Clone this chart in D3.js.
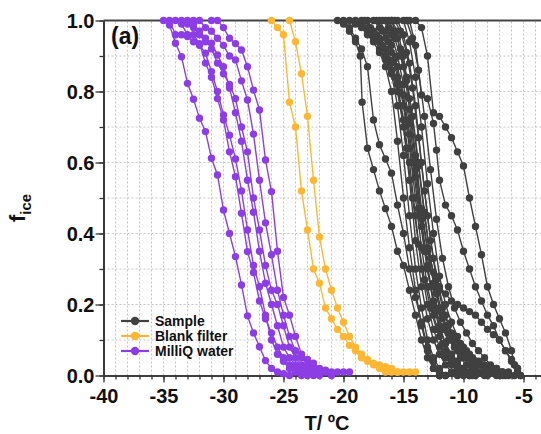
<!DOCTYPE html>
<html>
<head>
<meta charset="utf-8">
<script src="https://cdn.jsdelivr.net/npm/d3@7/dist/d3.min.js"></script>
<style>
  html, body { margin: 0; padding: 0; background: #fff; }
  svg { display: block; font-family: "Liberation Sans", Arial, sans-serif; font-weight: bold; }
</style>
</head>
<body>
<svg id="chart" width="541" height="434"></svg>
<script>
// ---------------- data ----------------
const xTicks = [-40, -35, -30, -25, -20, -15, -10, -5];
const yTicks = [0, 0.2, 0.4, 0.6, 0.8, 1.0];
const seriesNames = ["Sample", "Blank filter", "MilliQ water"];
const seriesColors = ["#404040", "#ffb733", "#8d3de4"];

// Sample runs: [T (°C), f_ice]
const sampleRuns = [
  [[-20.5,1],[-20,0.99],[-19.5,0.97],[-19,0.94],[-18.6,0.9],[-18.45,0.77],[-18,0.64],[-17.5,0.58],[-17,0.52],[-16.5,0.47],[-16,0.42],[-15.5,0.35],[-15,0.31],[-14.5,0.24],[-14,0.17],[-13.5,0.1],[-13,0.05],[-12.5,0.02],[-12,0]],
  [[-20,1],[-19.5,0.98],[-19,0.95],[-18.5,0.92],[-18,0.87],[-17.5,0.72],[-17,0.65],[-16.5,0.61],[-16,0.57],[-15.5,0.48],[-15,0.4],[-14.5,0.3],[-14,0.22],[-13.5,0.15],[-13,0.08],[-12.5,0.04],[-12,0.01],[-11.5,0]],
  [[-14,1],[-13.5,0.98],[-13,0.9],[-12.5,0.74],[-12,0.73],[-11.5,0.7],[-11,0.67],[-10.5,0.63],[-10,0.59],[-9.5,0.5],[-9,0.42],[-8.5,0.34],[-8,0.25],[-7.5,0.2],[-7,0.16],[-6.5,0.12],[-6,0.07],[-5.75,0.03],[-5.5,0.01]],
  [[-14.5,1],[-14,0.93],[-13.5,0.79],[-13,0.78],[-12.5,0.71],[-12.25,0.635],[-12,0.55],[-11.5,0.48],[-11,0.45],[-10.5,0.41],[-10,0.35],[-9.5,0.3],[-9,0.25],[-8.5,0.21],[-8,0.17],[-7.5,0.14],[-7,0.1],[-6.5,0.07],[-6,0.04],[-5.5,0.02],[-5.25,0]],
  [[-19.5,1],[-19,0.99],[-18.5,0.98],[-18,0.96],[-17.5,0.94],[-17,0.91],[-16.5,0.87],[-16,0.8],[-15.5,0.66],[-15,0.5],[-14.5,0.36],[-14,0.24],[-13.5,0.14],[-13,0.07],[-12.5,0.02],[-12,0]],
  [[-19,1],[-18.5,0.99],[-18,0.97],[-17.5,0.95],[-17,0.92],[-16.5,0.89],[-16,0.85],[-15.5,0.76],[-15,0.62],[-14.5,0.45],[-14,0.3],[-13.5,0.19],[-13,0.1],[-12.5,0.05],[-12,0.02],[-11.5,0]],
  [[-18.5,1],[-18,0.98],[-17.5,0.96],[-17,0.94],[-16.5,0.9],[-16,0.86],[-15.5,0.8],[-15,0.7],[-14.5,0.55],[-14,0.38],[-13.5,0.25],[-13,0.16],[-12.5,0.1],[-12,0.06],[-11.5,0.03],[-11,0.01],[-10.5,0]],
  [[-18,1],[-17.5,0.97],[-17,0.95],[-16.5,0.92],[-16,0.88],[-15.5,0.82],[-15,0.72],[-14.5,0.6],[-14,0.45],[-13.5,0.3],[-13,0.2],[-12.5,0.13],[-12,0.08],[-11.5,0.05],[-11,0.03],[-10.5,0.01],[-10,0]],
  [[-17.5,1],[-17,0.98],[-16.5,0.95],[-16,0.91],[-15.5,0.84],[-15,0.76],[-14.5,0.64],[-14,0.5],[-13.5,0.36],[-13,0.25],[-12.5,0.17],[-12,0.11],[-11.5,0.07],[-11,0.04],[-10.5,0.02],[-10,0.01],[-9.5,0]],
  [[-17,1],[-16.5,0.97],[-16,0.93],[-15.5,0.87],[-15,0.79],[-14.5,0.68],[-14,0.56],[-13.5,0.42],[-13,0.3],[-12.5,0.2],[-12,0.13],[-11.5,0.09],[-11,0.06],[-10.5,0.04],[-10,0.02],[-9.5,0.01],[-9,0]],
  [[-16.5,1],[-16,0.96],[-15.5,0.9],[-15,0.82],[-14.5,0.71],[-14,0.58],[-13.5,0.46],[-13,0.35],[-12.5,0.26],[-12,0.19],[-11.5,0.14],[-11,0.1],[-10.5,0.07],[-10,0.05],[-9.5,0.03],[-9,0.02],[-8.5,0.01],[-8,0]],
  [[-16,1],[-15.5,0.95],[-15,0.87],[-14.5,0.75],[-14,0.6],[-13.5,0.44],[-13,0.31],[-12.5,0.21],[-12,0.14],[-11.5,0.09],[-11,0.05],[-10.5,0.03],[-10,0.01],[-9.5,0]],
  [[-15.5,1],[-15,0.96],[-14.5,0.88],[-14,0.76],[-13.5,0.6],[-13,0.45],[-12.5,0.33],[-12,0.24],[-11.5,0.17],[-11,0.12],[-10.5,0.09],[-10,0.07],[-9.5,0.05],[-9,0.04],[-8.5,0.03],[-8,0.02],[-7.5,0.01],[-7,0]],
  [[-15,1],[-14.5,0.94],[-14,0.84],[-13.5,0.7],[-13,0.54],[-12.5,0.4],[-12,0.28],[-11.5,0.2],[-11,0.15],[-10.5,0.11],[-10,0.08],[-9.5,0.06],[-9,0.04],[-8.5,0.03],[-8,0.02],[-7.5,0.01],[-7,0.01],[-6.5,0]],
  [[-18.25,1],[-17.75,0.98],[-17.25,0.96],[-16.75,0.93],[-16.25,0.89],[-15.75,0.84],[-15.25,0.76],[-14.75,0.64],[-14.25,0.5],[-13.75,0.37],[-13.25,0.27],[-12.75,0.19],[-12.25,0.13],[-11.75,0.09],[-11.25,0.06],[-10.75,0.04],[-10.25,0.02],[-9.75,0.01],[-9.25,0]],
  [[-17.25,1],[-16.75,0.97],[-16.25,0.94],[-15.75,0.89],[-15.25,0.82],[-14.75,0.72],[-14.25,0.6],[-13.75,0.47],[-13.25,0.35],[-12.75,0.25],[-12.25,0.18],[-11.75,0.13],[-11.25,0.1],[-10.75,0.08],[-10.25,0.06],[-9.75,0.05],[-9.25,0.04],[-8.75,0.03],[-8.25,0.02],[-7.75,0.01],[-7.25,0.01],[-6.75,0]],
  [[-16.25,1],[-15.75,0.97],[-15.25,0.92],[-14.75,0.84],[-14.25,0.73],[-13.75,0.59],[-13.25,0.45],[-12.75,0.33],[-12.25,0.24],[-11.75,0.17],[-11.25,0.12],[-10.75,0.08],[-10.25,0.05],[-9.75,0.03],[-9.25,0.02],[-8.75,0.01],[-8.25,0]],
  [[-15.75,1],[-15.25,0.97],[-14.75,0.91],[-14.25,0.81],[-13.75,0.67],[-13.25,0.52],[-12.75,0.38],[-12.25,0.27],[-11.75,0.19],[-11.25,0.14],[-10.75,0.11],[-10.25,0.09],[-9.75,0.07],[-9.25,0.05],[-8.75,0.04],[-8.25,0.03],[-7.75,0.02],[-7.25,0.02],[-6.75,0.01],[-6.25,0.01],[-5.75,0]],
  [[-14.75,1],[-14.25,0.95],[-13.75,0.86],[-13.25,0.73],[-12.75,0.58],[-12.25,0.44],[-11.75,0.33],[-11.25,0.25],[-10.75,0.19],[-10.25,0.15],[-9.75,0.12],[-9.25,0.09],[-8.75,0.07],[-8.25,0.05],[-7.75,0.03],[-7.25,0.02],[-6.75,0.01],[-6.25,0]],
  [[-16.75,1],[-16.25,0.98],[-15.75,0.95],[-15.25,0.9],[-14.75,0.83],[-14.25,0.73],[-13.75,0.6],[-13.25,0.46],[-12.75,0.33],[-12.25,0.23],[-11.75,0.16],[-11.25,0.12],[-10.75,0.09],[-10.25,0.07],[-9.75,0.05],[-9.25,0.04],[-8.75,0.03],[-8.25,0.02],[-7.75,0.01],[-7.25,0]],
  [[-16,1],[-15.5,0.97],[-15,0.9],[-14.5,0.78],[-14,0.62],[-13.5,0.47],[-13,0.36],[-12.5,0.29],[-12,0.25],[-11.5,0.23],[-11,0.21],[-10.5,0.2],[-10,0.19],[-9.5,0.18],[-9,0.17],[-8.5,0.15],[-8,0.13],[-7.5,0.115],[-7,0.1],[-6.5,0.07],[-6,0.045],[-5.75,0.03],[-5.5,0.02],[-5.25,0]]
];

// Blank filter runs
const blankRuns = [
  [[-26,1],[-25.5,0.98],[-25,0.96],[-24.5,0.77],[-24,0.7],[-23.5,0.52],[-23,0.41],[-22.5,0.3],[-22,0.26],[-21.5,0.19],[-21,0.16],[-20.5,0.13],[-20,0.11],[-19.5,0.085],[-19,0.07],[-18.5,0.05],[-18,0.04],[-17.5,0.03],[-17,0.02],[-16.5,0.01],[-16,0.01],[-15.5,0.01]],
  [[-24.5,1],[-24,0.94],[-23.5,0.85],[-23,0.73],[-22.5,0.55],[-22,0.39],[-21.5,0.3],[-21,0.24],[-20.5,0.19],[-20,0.15],[-19.5,0.11],[-19,0.08],[-18.5,0.06],[-18,0.045],[-17.5,0.035],[-17,0.03],[-16.5,0.025],[-16,0.02],[-15.5,0.01],[-15,0.01],[-14.5,0.01],[-14,0.01]]
];

// MilliQ water runs
const milliqRuns = [
  [[-35,1],[-34.5,0.987],[-34,0.936],[-33.5,0.898],[-33,0.823],[-32.5,0.778],[-32,0.725],[-31.5,0.687],[-31,0.612],[-30.5,0.565],[-30,0.466],[-29.5,0.4],[-29,0.335],[-28.5,0.255],[-28,0.168],[-27.5,0.12],[-27,0.081],[-26.5,0.042],[-26,0.02],[-25.5,0.01],[-25,0.005],[-24.5,0]],
  [[-34.5,1],[-34,0.96],[-33.5,0.96],[-33,0.955],[-32.5,0.94],[-32,0.93],[-31.5,0.908],[-31,0.856],[-30.5,0.8],[-30,0.734],[-29.5,0.677],[-29,0.61],[-28.5,0.52],[-28,0.41],[-27.5,0.31],[-27,0.25],[-26.5,0.17],[-26,0.1],[-25.5,0.06],[-25,0.04],[-24.5,0.02],[-24,0.01],[-23.5,0]],
  [[-34,1],[-33.5,0.99],[-33,0.96],[-32.5,0.96],[-32,0.935],[-31.5,0.88],[-31,0.84],[-30.5,0.78],[-30,0.72],[-29.5,0.63],[-29,0.56],[-28.5,0.457],[-28,0.349],[-27.5,0.29],[-27,0.21],[-26.5,0.16],[-26,0.12],[-25.5,0.08],[-25,0.05],[-24.5,0.03],[-24,0.02],[-23.5,0.01],[-23,0]],
  [[-33.5,1],[-33,0.99],[-32.5,0.98],[-32,0.96],[-31.5,0.94],[-31,0.936],[-30.5,0.903],[-30,0.87],[-29.5,0.81],[-29,0.74],[-28.5,0.66],[-28,0.55],[-27.5,0.46],[-27,0.35],[-26.5,0.26],[-26,0.2],[-25.5,0.14],[-25,0.08],[-24.5,0.05],[-24,0.03],[-23.5,0.02],[-23,0.01],[-22.5,0]],
  [[-33,1],[-32.5,0.99],[-32,0.97],[-31.5,0.95],[-31,0.92],[-30.5,0.88],[-30,0.85],[-29.5,0.82],[-29,0.78],[-28.5,0.7],[-28,0.63],[-27.5,0.5],[-27,0.41],[-26.5,0.31],[-26,0.24],[-25.5,0.2],[-25,0.14],[-24.5,0.08],[-24,0.05],[-23.5,0.03],[-23,0.02],[-22.5,0.01],[-22,0]],
  [[-32.5,1],[-32,1],[-31.5,0.98],[-31,0.97],[-30.5,0.95],[-30,0.93],[-29.5,0.9],[-29,0.889],[-28.5,0.83],[-28,0.776],[-27.5,0.68],[-27,0.55],[-26.5,0.43],[-26,0.34],[-25.5,0.24],[-25,0.17],[-24.5,0.11],[-24,0.07],[-23.5,0.05],[-23,0.03],[-22.5,0.02],[-22,0.01],[-21.5,0.01],[-21,0]],
  [[-31,1],[-30.5,1],[-30,0.98],[-29.5,0.95],[-29,0.935],[-28.5,0.917],[-28,0.87],[-27.5,0.804],[-27,0.748],[-26.5,0.607],[-26,0.518],[-25.5,0.35],[-25,0.22],[-24.5,0.17],[-24,0.11],[-23.5,0.06],[-23,0.045],[-22.5,0.035],[-22,0.02],[-21.5,0.015],[-21,0.01],[-20.5,0.01],[-20,0.01],[-19.5,0.01]]
];

// ---------------- drawing ----------------
const svg = d3.select("#chart");
const x = d3.scaleLinear().domain([-40, -3.5]).range([103.5, 541.5]);
const y = d3.scaleLinear().domain([0, 1]).range([375.5, 20.5]);
const [x0, x1] = x.range();
const [yb, yt] = y.range();

// grid
const grid = svg.append("g").attr("stroke", "#c4c4c4").attr("stroke-width", 1).attr("stroke-dasharray", "2,2");
d3.range(-39, -3, 1).forEach(t => {
  grid.append("line").attr("x1", x(t)).attr("x2", x(t)).attr("y1", yb).attr("y2", yt);
});
d3.range(1, 10).map(i => i / 10).forEach(v => {
  grid.append("line").attr("x1", x0).attr("x2", x1).attr("y1", y(v)).attr("y2", y(v));
});

// top border
svg.append("line").attr("x1", x0).attr("x2", x1).attr("y1", yt).attr("y2", yt)
  .attr("stroke", "#444").attr("stroke-width", 1.8);

// axes
const xMinor = svg.append("g").attr("transform", `translate(0,${yb})`)
  .call(d3.axisBottom(x).tickValues(d3.range(-40, -3, 1)).tickSize(4).tickSizeOuter(0).tickFormat(""));
const xMajor = svg.append("g").attr("transform", `translate(0,${yb})`)
  .call(d3.axisBottom(x).tickValues(xTicks).tickSize(7).tickSizeOuter(0).tickPadding(6).tickFormat(d => String(d)));
const yMinor = svg.append("g").attr("transform", `translate(${x0},0)`)
  .call(d3.axisLeft(y).tickValues(d3.range(0, 11).map(i => i / 10)).tickSize(4).tickSizeOuter(0).tickFormat(""));
const yMajor = svg.append("g").attr("transform", `translate(${x0},0)`)
  .call(d3.axisLeft(y).tickValues(yTicks).tickSize(8).tickSizeOuter(0).tickPadding(1).tickFormat(d3.format(".1f")));

[xMinor, xMajor, yMinor, yMajor].forEach(g => {
  g.selectAll("path.domain").attr("stroke", "#333").attr("stroke-width", 1.6);
  g.selectAll(".tick line").attr("stroke", "#333").attr("stroke-width", 1.3);
  g.selectAll("text").attr("fill", "#111").style("font-size", "20px").style("font-weight", "bold")
    .style("font-family", '"Liberation Sans", Arial, sans-serif');
});
yMajor.selectAll("text").attr("dy", "0.36em");

// series
const line = d3.line().x(d => x(d[0])).y(d => y(d[1]));
function drawRuns(runs, color) {
  const g = svg.append("g");
  runs.forEach(run => {
    g.append("path").attr("d", line(run)).attr("fill", "none")
      .attr("stroke", color).attr("stroke-width", 1.4);
    g.selectAll(null).data(run).enter().append("circle")
      .attr("cx", d => x(d[0])).attr("cy", d => y(d[1])).attr("r", 3.7).attr("fill", color);
  });
}
drawRuns(sampleRuns, seriesColors[0]);
drawRuns(blankRuns, seriesColors[1]);
drawRuns(milliqRuns, seriesColors[2]);

// legend
const legendY = [321, 336, 351];
seriesNames.forEach((name, i) => {
  const g = svg.append("g");
  g.append("line").attr("x1", 121).attr("x2", 149).attr("y1", legendY[i]).attr("y2", legendY[i])
    .attr("stroke", seriesColors[i]).attr("stroke-width", 2.2);
  g.append("circle").attr("cx", 135).attr("cy", legendY[i]).attr("r", 4.2).attr("fill", seriesColors[i]);
  g.append("text").attr("x", 155).attr("y", legendY[i] + 5).text(name)
    .style("font-size", "14px").attr("fill", "#111");
});

// panel label
svg.append("text").attr("x", 111).attr("y", 44).text("(a)").style("font-size", "23px").attr("fill", "#111");

// axis titles
svg.append("text").attr("x", 327).attr("y", 430).attr("text-anchor", "middle")
  .style("font-size", "20px").attr("fill", "#111").text("T/ ºC");
const yt_ = svg.append("text").attr("transform", "translate(25,222) rotate(-90)")
  .style("font-size", "22px").attr("fill", "#111");
yt_.append("tspan").text("f");
yt_.append("tspan").attr("dy", 6).style("font-size", "15px").text("ice");
</script>
</body>
</html>
